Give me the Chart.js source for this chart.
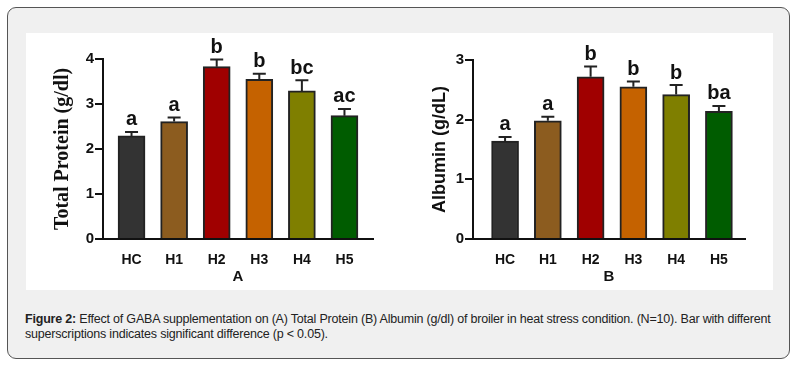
<!DOCTYPE html>
<html>
<head>
<meta charset="utf-8">
<script src="https://cdn.jsdelivr.net/npm/chart.js@4.4.0/dist/chart.umd.min.js"></script>
<style>
  html, body { margin: 0; padding: 0; background: #fff; }
  #frame {
    position: absolute; left: 7px; top: 7px; width: 781px; height: 350px;
    border: 1px solid #555; border-radius: 9px; background: #f0f0f0;
  }
  #panel { position: absolute; left: 26px; top: 33px; width: 747px; height: 257px; background: #fff; }
  canvas { position: absolute; }
  #caption {
    position: absolute; left: 25px; top: 312px; width: 770px;
    font-family: "Liberation Sans", Arial, sans-serif; font-size: 12.5px; letter-spacing: -0.2px;
    line-height: 15px; color: #222;
  }
</style>
</head>
<body>
<div id="frame"></div>
<div id="panel"></div>
<canvas id="chartA" width="360" height="254" style="left:40px;top:36px"></canvas>
<canvas id="chartB" width="360" height="254" style="left:410px;top:36px"></canvas>
<div id="caption"><b>Figure 2:</b> Effect of GABA supplementation on (A) Total Protein (B) Albumin (g/dl) of broiler in heat stress condition. (N=10). Bar with different superscriptions indicates significant difference (p &lt; 0.05).</div>
<script>
const groups = ['HC', 'H1', 'H2', 'H3', 'H4', 'H5'];
const barColors = ['#333333', '#8c5c1f', '#a00000', '#c56200', '#7f7f00', '#005c00'];

const proteinMean = [2.29, 2.61, 3.83, 3.55, 3.29, 2.74];
const proteinErr = [0.09, 0.09, 0.16, 0.12, 0.24, 0.15];
const proteinLetters = ['a', 'a', 'b', 'b', 'bc', 'ac'];
const proteinTicks = [0, 1, 2, 3, 4];

const albuminMean = [1.64, 1.98, 2.72, 2.55, 2.42, 2.14];
const albuminErr = [0.07, 0.07, 0.17, 0.09, 0.16, 0.09];
const albuminLetters = ['a', 'a', 'b', 'b', 'b', 'ba'];
const albuminTicks = [0, 1, 2, 3];

// error bars (upper half only) and significance letters
const markPlugin = {
    id: 'marks',
    afterDatasetsDraw(chart, args, opts) {
        const ctx = chart.ctx;
        const xs = chart.scales.x, ys = chart.scales.y;
        ctx.save();
        ctx.strokeStyle = '#222';
        ctx.lineWidth = 2;
        ctx.fillStyle = '#111';
        ctx.font = 'bold 20px "Liberation Sans", Arial, sans-serif';
        ctx.textAlign = 'center';
        ctx.textBaseline = 'bottom';
        opts.mean.forEach((m, i) => {
            const x = xs.getPixelForValue(i);
            const yTop = ys.getPixelForValue(m + opts.err[i]);
            const yBar = ys.getPixelForValue(m);
            ctx.beginPath();
            ctx.moveTo(x, yBar);
            ctx.lineTo(x, yTop);
            ctx.moveTo(x - 6.5, yTop);
            ctx.lineTo(x + 6.5, yTop);
            ctx.stroke();
            ctx.fillText(opts.letters[i], x, yTop - 2);
        });
        ctx.restore();
    }
};

function makeChart(id, mean, err, letters, yTicks, cfg) {
    return new Chart(document.getElementById(id).getContext('2d'), {
        type: 'bar',
        data: {
            datasets: [{
                data: mean.map((v, i) => ({ x: i, y: v })),
                backgroundColor: barColors,
                borderColor: '#222',
                borderWidth: 2,
                borderSkipped: 'start',
                barThickness: 27,
            }],
        },
        plugins: [markPlugin],
        options: {
            responsive: false,
            animation: false,
            layout: { padding: { left: 0, right: cfg.right, top: cfg.top, bottom: 0 } },
            plugins: {
                legend: { display: false },
                tooltip: { enabled: false },
                marks: { mean: mean, err: err, letters: letters },
            },
            scales: {
                x: {
                    type: 'linear',
                    offset: false,
                    min: cfg.xMin,
                    max: cfg.xMax,
                    afterBuildTicks: (s) => { s.ticks = groups.map((g, i) => ({ value: i })); },
                    afterFit: (s) => { s.height = 51; },
                    grid: { display: false, drawTicks: false },
                    border: { display: true, color: '#111', width: 2 },
                    ticks: {
                        callback: (v) => groups[v],
                        color: '#111',
                        padding: 13,
                        maxRotation: 0,
                        font: { family: '"Liberation Sans", Arial, sans-serif', size: 14, weight: 'bold' },
                    },
                    title: {
                        display: true,
                        text: cfg.xTitle,
                        color: '#111',
                        padding: { top: 0, bottom: 4 },
                        font: { family: '"Liberation Sans", Arial, sans-serif', size: 15, weight: 'bold' },
                    },
                },
                y: {
                    min: 0,
                    max: yTicks[yTicks.length - 1],
                    afterBuildTicks: (s) => { s.ticks = yTicks.map((v) => ({ value: v })); },
                    afterFit: (s) => { s.width = 63; },
                    grid: { display: true, drawOnChartArea: false, drawTicks: true, tickLength: 8, color: '#111', lineWidth: 2 },
                    border: { display: true, color: '#111', width: 2 },
                    ticks: {
                        color: '#111',
                        padding: 1,
                        font: { family: '"Liberation Sans", Arial, sans-serif', size: 15, weight: 'bold' },
                    },
                    title: {
                        display: true,
                        text: cfg.yTitle,
                        color: '#111',
                        padding: { top: cfg.yTitlePad, bottom: 0 },
                        font: cfg.yFont,
                    },
                },
            },
        },
    });
}

makeChart('chartA', proteinMean, proteinErr, proteinLetters, proteinTicks, {
    right: 27, top: 23, xMin: -0.67, xMax: 5.67, xTitle: 'A', yTitle: 'Total Protein (g/dl)', yTitlePad: 11,
    yFont: { family: '"Liberation Serif", "Times New Roman", serif', size: 20, weight: 'bold' },
});
makeChart('chartB', albuminMean, albuminErr, albuminLetters, albuminTicks, {
    right: 25, top: 24, xMin: -0.75, xMax: 5.61, xTitle: 'B', yTitle: 'Albumin (g/dL)', yTitlePad: 19,
    yFont: { family: '"Liberation Sans", Arial, sans-serif', size: 18, weight: 'bold' },
});
</script>
</body>
</html>
